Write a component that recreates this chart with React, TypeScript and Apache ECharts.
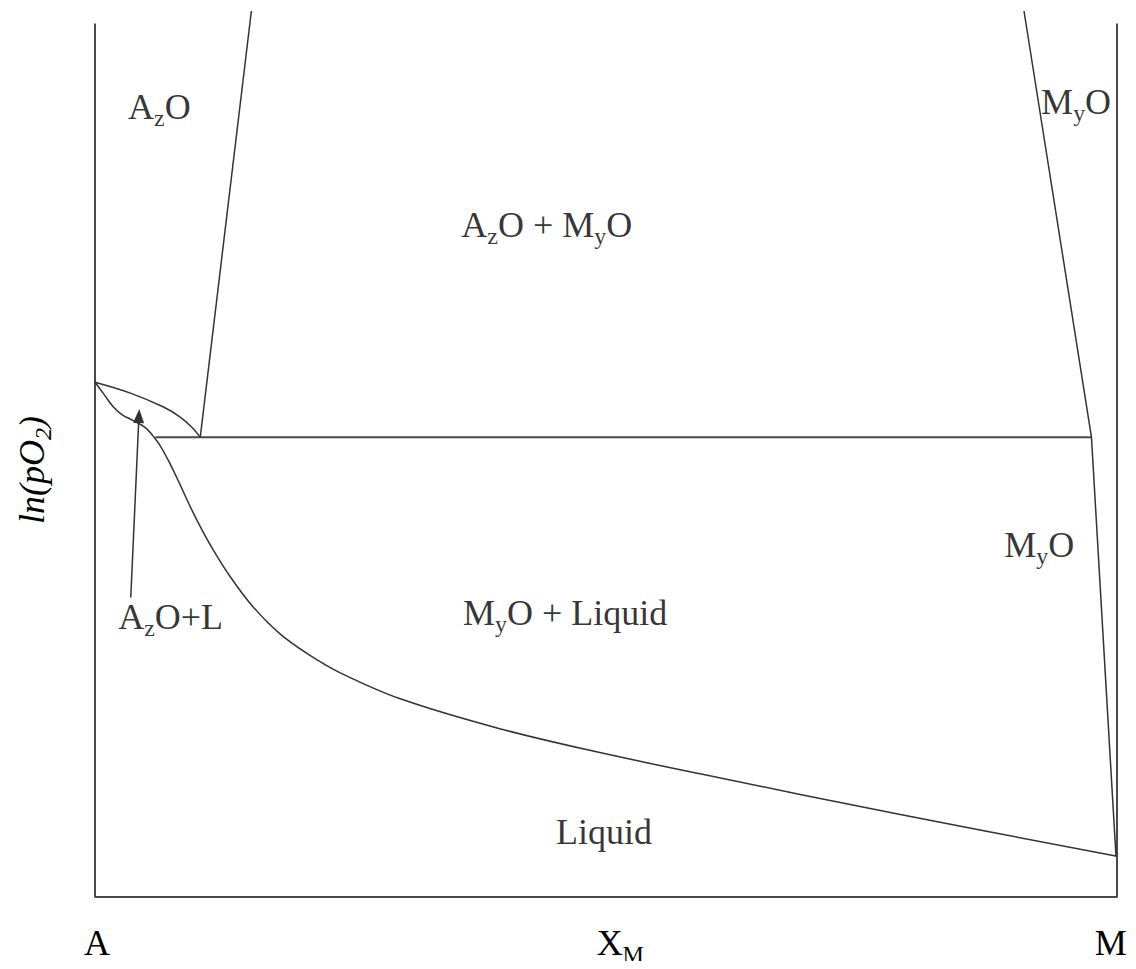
import { useEffect, useRef } from "react";
import * as echarts from "echarts";

// Data in arbitrary units: x = X_M in % (A = 0, M = 100), y = ln(pO2) in relative units (0..100)
const FRAME = [[0, 98.6], [0, 0], [100, 0], [100, 98.6]];
const LEFT_SOLIDUS = [[15.3, 100], [10.3, 51.9]];
const THREE_PHASE_LINE = [[5.9, 51.9], [97.5, 51.9]];
const RIGHT_SOLIDUS = [[90.9, 100], [97.5, 51.9], [99.9, 4.6]];
const LENS_UPPER = [[0, 58.1], [3.4, 56.9], [6.7, 55.3], [8.3, 54.2], [9.5, 53.0], [10.3, 51.9]];
const LENS_LOWER = [[0, 58.1], [0.9, 56.7], [1.8, 55.3], [2.7, 54.4], [3.7, 53.8], [4.9, 53.0], [5.7, 52.0]];
const LIQUIDUS = [
  [5.7, 52.0], [6.4, 50.9], [7.3, 49.0], [8.3, 46.6], [9.3, 44.1], [10.3, 41.8],
  [11.3, 39.7], [13.2, 36.2], [15.5, 32.7], [18.1, 29.7], [21.0, 27.3], [24.0, 25.3],
  [29.8, 22.4], [39.6, 19.0], [49.4, 16.3], [59.2, 13.9], [78.8, 9.3], [100, 4.6],
];
const ARROW_FROM = [3.5, 33.8];
const ARROW_TO = [4.3, 54.3];

const REGION_LABEL_X = [6.3, 96.0, 44.2, 92.4, 7.4, 46.0, 49.8];
const REGION_LABEL_Y = [89.2, 89.7, 75.9, 39.7, 31.6, 32.1, 7.3];
const REGION_LABEL_TEXT = [
  "A{s|z}O",
  "M{s|y}O",
  "A{s|z}O + M{s|y}O",
  "M{s|y}O",
  "A{s|z}O+L",
  "M{s|y}O + Liquid",
  "Liquid",
];

const X_TICK_VALUES = [0.2, 51.4, 99.4];
const X_TICK_LABELS = ["A", "X{s|M}", "M"];
const Y_AXIS_NAME = "ln(pO{s|2})";

const FONT = "Liberation Serif";
const LINE_COLOR = "#333";
const FRAME_COLOR = "#4a4a4a";

const rich = {
  s: { fontSize: 24, lineHeight: 16, verticalAlign: "bottom", fontFamily: FONT, color: "#000" },
};

function lineSeries(data: number[][], color = LINE_COLOR, width = 1.5, smooth: number | boolean = false) {
  return {
    type: "line",
    data,
    symbol: "none",
    showSymbol: false,
    smooth,
    silent: true,
    lineStyle: { color, width },
    z: 3,
  };
}

export default function App() {
  const ref = useRef<HTMLDivElement>(null);
  useEffect(() => {
    if (!ref.current) return;
    const chart = echarts.init(ref.current, undefined, { renderer: "svg" });
    const labelData = REGION_LABEL_X.map((x, i) => [x, REGION_LABEL_Y[i], REGION_LABEL_TEXT[i]]);
    chart.setOption({
      animation: false,
      backgroundColor: "#fff",
      grid: { left: 95, right: 19, top: 11, bottom: 72, containLabel: false },
      xAxis: {
        type: "value",
        min: 0,
        max: 100,
        axisLine: { show: false },
        axisTick: { show: false },
        splitLine: { show: false },
        axisLabel: {
          customValues: X_TICK_VALUES,
          margin: 23,
          fontFamily: FONT,
          fontSize: 36,
          lineHeight: 46,
          color: "#000",
          rich,
          formatter: (v: number) => {
            const i = X_TICK_VALUES.findIndex((t) => Math.abs(t - v) < 0.01);
            return i >= 0 ? X_TICK_LABELS[i] : "";
          },
        },
      },
      yAxis: {
        type: "value",
        min: 0,
        max: 100,
        axisLine: { show: false },
        axisTick: { show: false },
        splitLine: { show: false },
        axisLabel: { show: false },
        name: Y_AXIS_NAME,
        nameLocation: "middle",
        nameGap: 40,
        nameRotate: 90,
        nameTextStyle: {
          fontFamily: FONT,
          fontStyle: "italic",
          fontSize: 36,
          lineHeight: 46,
          color: "#000",
          padding: [0, 32, 0, 0],
          rich: { s: { ...rich.s, fontStyle: "italic" } },
        },
      },
      series: [
        lineSeries(FRAME, FRAME_COLOR, 2),
        lineSeries(LEFT_SOLIDUS),
        lineSeries(THREE_PHASE_LINE, FRAME_COLOR, 2),
        lineSeries(RIGHT_SOLIDUS),
        lineSeries(LENS_UPPER, LINE_COLOR, 1.5, 0.35),
        lineSeries(LENS_LOWER, LINE_COLOR, 1.5, 0.35),
        lineSeries(LIQUIDUS, LINE_COLOR, 1.5, 0.35),
        {
          type: "lines",
          coordinateSystem: "cartesian2d",
          silent: true,
          symbol: ["none", "triangle"],
          symbolSize: [0, [11, 14]],
          lineStyle: { color: LINE_COLOR, width: 1.5, opacity: 1 },
          itemStyle: { color: "#111" },
          data: [{ coords: [ARROW_FROM, ARROW_TO] }],
          z: 4,
        },
        {
          type: "scatter",
          data: labelData,
          symbolSize: 0,
          silent: true,
          clip: false,
          label: {
            show: true,
            position: "inside",
            formatter: (p: any) => p.value[2],
            fontFamily: FONT,
            fontSize: 36,
            lineHeight: 46,
            color: "#000",
            rich,
          },
          z: 5,
        },
      ],
    });
    return () => chart.dispose();
  }, []);
  return <div ref={ref} style={{ width: 1136, height: 969, margin: -8 }} />;
}
